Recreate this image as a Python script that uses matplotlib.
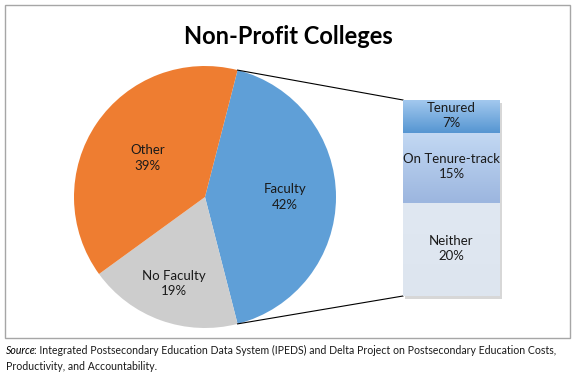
import numpy as np
import matplotlib
matplotlib.use("Agg")
from matplotlib import pyplot as plt
from matplotlib.patches import Rectangle
from matplotlib.colors import LinearSegmentedColormap

pie_labels = ['Faculty', 'No Faculty', 'Other']
pie_values = [42, 19, 39]
bar_labels = ['Tenured', 'On Tenure-track', 'Neither']
bar_values = [7, 15, 20]

title = 'Non-Profit Colleges'
source_lines = ['Integrated Postsecondary Education Data System (IPEDS) and Delta Project on Postsecondary Education Costs,',
                'Productivity, and Accountability.']

plt.rcParams['font.family'] = ['Lato', 'DejaVu Sans']

fig = plt.figure(figsize=(5.76, 3.76), dpi=100)
ax = fig.add_axes([0, 0, 1, 1])

# pie, in pixel coords (y going up)
cx, cy, r = 205, 179, 131
pie_colors = ['#5f9fd7', '#cdcdcd', '#ee7d31']
start = 360 * pie_values[0] / 100 / 2
wedges, _ = ax.pie(pie_values, colors=pie_colors, startangle=start, counterclock=False,
                   center=(cx, cy), radius=r, frame=True,
                   wedgeprops=dict(linewidth=0))

lab_dist = [0.61, 0.70, 0.53]
for w, lab, val, d in zip(wedges, pie_labels, pie_values, lab_dist):
    ang = np.deg2rad((w.theta1 + w.theta2) / 2)
    ax.text(cx + d * r * np.cos(ang), cy + d * r * np.sin(ang), f'{lab}\n{val}%',
            ha='center', va='center', fontsize=9.5, color='#1a1a1a', linespacing=1.35)

# stacked bar for faculty breakdown
bx, bw = 403, 97
top, bottom = 276, 80
scale = (top - bottom) / sum(bar_values)
grads = [('#a2c8ee', '#5696d2'), ('#c2d8f3', '#9cb6df'), ('#e0e8f2', '#dde5ef')]

ax.add_patch(Rectangle((bx + 2, bottom - 3), bw, top - bottom, color='#b0b0b0', alpha=0.5, lw=0))
y = top
for lab, val, (c1, c2) in zip(bar_labels, bar_values, grads):
    h = val * scale
    bars = ax.bar(bx + bw / 2, h, width=bw, bottom=y - h, color=c2, linewidth=0)
    rect = bars[0]
    cmap = LinearSegmentedColormap.from_list('g', [c2, c1])
    im = ax.imshow(np.linspace(0, 1, 50).reshape(-1, 1), extent=(bx, bx + bw, y - h, y),
                   cmap=cmap, origin='lower', aspect='auto', zorder=2)
    im.set_clip_path(rect)
    ax.text(bx + bw / 2, y - h / 2 + 1, f'{lab}\n{val}%', ha='center', va='center',
            fontsize=9.5, color='#1a1a1a', linespacing=1.35, zorder=3)
    y -= h

# connector lines from faculty wedge to bar
fw = wedges[0]
for th, yy in [(fw.theta2, top), (fw.theta1, bottom)]:
    a = np.deg2rad(th)
    ax.plot([cx + r * np.cos(a), bx], [cy + r * np.sin(a), yy], color='black', lw=0.8, zorder=1)

ax.text(288, 339, title, ha='center', va='center', fontsize=17, fontweight='bold', color='black')

ax.add_patch(Rectangle((5, 38), 565, 333, fill=False, edgecolor='#a6a6a6', lw=1))

ax.set_xlim(0, 576)
ax.set_ylim(0, 376)
ax.set_aspect('auto')
ax.axis('off')

# source note: italic "Source" then plain text
fs = 7.6
s = ax.text(6, 26, 'Source', fontsize=fs, style='italic', va='center', ha='left', color='black')
fig.canvas.draw()
ext = s.get_window_extent(fig.canvas.get_renderer())
x2 = ax.transData.inverted().transform((ext.x1, 0))[0] - 1.5
ax.text(x2, 26, ': ' + source_lines[0], fontsize=fs, va='center', ha='left', color='#1a1a1a')
ax.text(6, 10, source_lines[1], fontsize=fs, va='center', ha='left', color='#1a1a1a')

fig.savefig('out.png', dpi=100)
